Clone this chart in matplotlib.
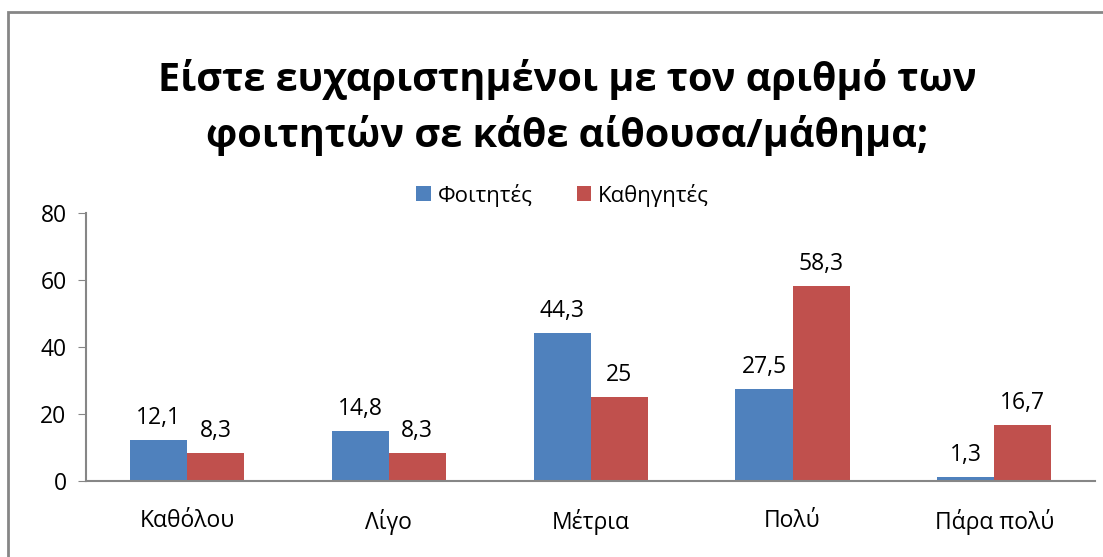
import numpy as np
import matplotlib.pyplot as plt
from matplotlib.patches import Rectangle

plt.rcParams['font.family'] = ['Open Sans', 'DejaVu Sans']

# Δεδομένα
categories = ['Καθόλου', 'Λίγο', 'Μέτρια', 'Πολύ', 'Πάρα πολύ']
foitites = [12.1, 14.8, 44.3, 27.5, 1.3]
kathigites = [8.3, 8.3, 25, 58.3, 16.7]
labels_f = ['12,1', '14,8', '44,3', '27,5', '1,3']
labels_k = ['8,3', '8,3', '25', '58,3', '16,7']

blue = '#4f81bd'
red = '#c0504d'

fig = plt.figure(figsize=(11.03, 5.57), dpi=100)
# πλαίσιο γραφήματος
fig.patches.append(Rectangle((8 / 1103, -0.1), 1.2, 1 - 12 / 557 + 0.1,
                             transform=fig.transFigure, fill=False,
                             edgecolor='#868686', linewidth=2))

ax = fig.add_axes([0.078, 0.1364, 0.915, 0.4812])
x = np.arange(len(categories))
w = 0.283
b1 = ax.bar(x - w / 2, foitites, w, color=blue, label='Φοιτητές')
b2 = ax.bar(x + w / 2, kathigites, w, color=red, label='Καθηγητές')

for rect, lab in zip(b1, labels_f):
    ax.text(rect.get_x() + rect.get_width() / 2, rect.get_height() + 3, lab,
            ha='center', va='bottom', fontsize=16.5)
for rect, lab in zip(b2, labels_k):
    ax.text(rect.get_x() + rect.get_width() / 2, rect.get_height() + 3, lab,
            ha='center', va='bottom', fontsize=16.5)

ax.set_xlim(-0.5, 4.5)
ax.set_ylim(0, 80)
ax.set_yticks([0, 20, 40, 60, 80])
ax.set_xticks(x)
ax.set_xticklabels(categories)
ax.tick_params(axis='y', labelsize=16.5, length=6, color='#868686',
               direction='out', pad=8)
ax.tick_params(axis='x', labelsize=16.5, length=0, pad=20)
for s in ['top', 'right']:
    ax.spines[s].set_visible(False)
for s in ['left', 'bottom']:
    ax.spines[s].set_color('#868686')
    ax.spines[s].set_linewidth(1.5)

fig.legend(loc='center', bbox_to_anchor=(0.51, 1 - 195 / 557), ncol=2,
           frameon=False, fontsize=16, handlelength=0.65, handleheight=0.65,
           handletextpad=0.3, columnspacing=2.0)

fig.text(0.514, 1 - 80 / 557, 'Είστε ευχαριστημένοι με τον αριθμό των',
         ha='center', va='center', fontsize=28.5, fontweight='bold')
fig.text(0.514, 1 - 135 / 557, 'φοιτητών σε κάθε αίθουσα/μάθημα;',
         ha='center', va='center', fontsize=28.5, fontweight='bold')

plt.savefig('out.png', dpi=100)
